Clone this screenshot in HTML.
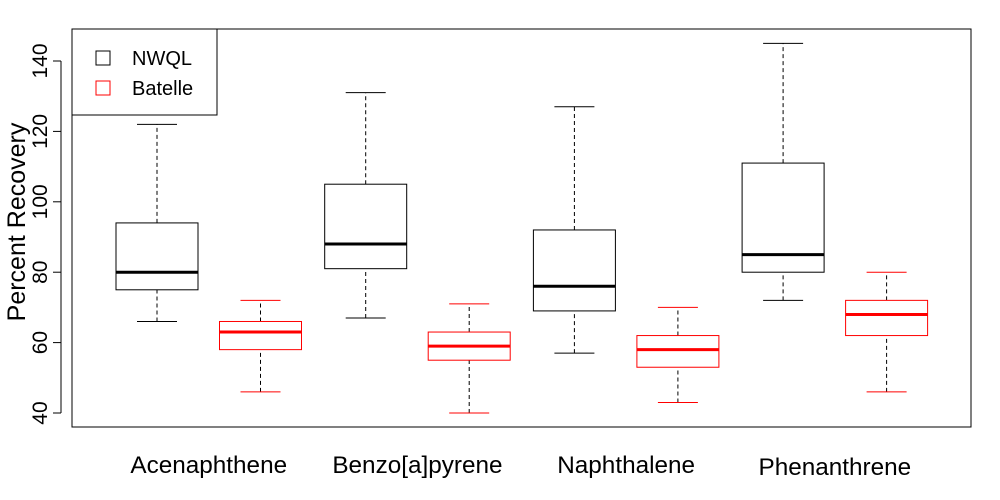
<!DOCTYPE html>
<html><head><meta charset="utf-8"><style>
html,body{margin:0;padding:0;background:#fff;}
svg{display:block;font-family:"Liberation Sans",Arial,sans-serif;}
</style></head><body>
<svg id="chart" width="1000" height="500"></svg>
<script>
const categories=["Acenaphthene","Benzo[a]pyrene","Naphthalene","Phenanthrene"];
const seriesNames=["NWQL","Batelle"];
const seriesColors=["#000000","#ff0000"];
const nwqlLow=[66,67,57,72];
const nwqlQ1=[75,81,69,80];
const nwqlMed=[80,88,76,85];
const nwqlQ3=[94,105,92,111];
const nwqlHigh=[122,131,127,145];
const batLow=[46,40,43,46];
const batQ1=[58,55,53,62];
const batMed=[63,59,58,68];
const batQ3=[66,63,62,72];
const batHigh=[72,71,70,80];
const yTicks=[40,60,80,100,120,140];

const svg=document.getElementById('chart');
const NS='http://www.w3.org/2000/svg';
function mk(t,a,p){const e=document.createElementNS(NS,t);for(const k in a)e.setAttribute(k,a[k]);(p||svg).appendChild(e);return e;}
const y=v=>413-(v-40)*3.52;
const boxX=(ci,si)=>157+ci*208.7+si*103.5;
const bw=82;

const frame=mk('rect',{x:72,y:29,width:899,height:398,fill:'none',stroke:'#000','stroke-width':1});



mk('line',{x1:61,x2:61,y1:y(40),y2:y(140),stroke:'#000'});
yTicks.forEach(t=>{
  mk('line',{x1:53,x2:61,y1:y(t),y2:y(t),stroke:'#000'});
  const tx=mk('text',{x:47,y:y(t),'font-size':21,'text-anchor':'middle',transform:`rotate(-90 47 ${y(t)})`});
  tx.textContent=t;
  
  
});
const yt=mk('text',{x:25,y:222,'font-size':25,'text-anchor':'middle',transform:'rotate(-90 25 222)'});
yt.textContent='Percent Recovery';



const series=[[nwqlLow,nwqlQ1,nwqlMed,nwqlQ3,nwqlHigh],[batLow,batQ1,batMed,batQ3,batHigh]];
categories.forEach((c,ci)=>{
  series.forEach((arrs,si)=>{
    const s=arrs.map(a=>a[ci]);
    const cx=boxX(ci,si),col=seriesColors[si];
    const g=mk('g',{});
    
    
    mk('line',{x1:cx,x2:cx,y1:y(s[0]),y2:y(s[1]),stroke:'#000','stroke-dasharray':'4,3'},g);
    mk('line',{x1:cx,x2:cx,y1:y(s[3]),y2:y(s[4]),stroke:'#000','stroke-dasharray':'4,3'},g);
    mk('line',{x1:cx-20,x2:cx+20,y1:y(s[0]),y2:y(s[0]),stroke:col},g);
    mk('line',{x1:cx-20,x2:cx+20,y1:y(s[4]),y2:y(s[4]),stroke:col},g);
    mk('rect',{x:cx-bw/2,y:y(s[3]),width:bw,height:y(s[1])-y(s[3]),fill:'#fff',stroke:col},g);
    mk('line',{x1:cx-bw/2,x2:cx+bw/2,y1:y(s[2]),y2:y(s[2]),stroke:col,'stroke-width':3},g);
  });
  const lx=(boxX(ci,0)+boxX(ci,1))/2;
  const t=mk('text',{x:lx,y:ci==3?475:473,'font-size':24.3,'text-anchor':'middle'});
  t.textContent=c;
  
  
});

const lg=mk('g',{});


mk('rect',{x:72,y:29,width:145,height:86,fill:'#fff',stroke:'#000'},lg);
seriesNames.forEach((n,i)=>{
  const yy=58+i*30;
  mk('rect',{x:96,y:yy-7,width:14,height:14,fill:'none',stroke:seriesColors[i]},lg);
  const t=mk('text',{x:132,y:yy+7,'font-size':20},lg);
  t.textContent=n;
  
  
});
</script>
</body></html>
